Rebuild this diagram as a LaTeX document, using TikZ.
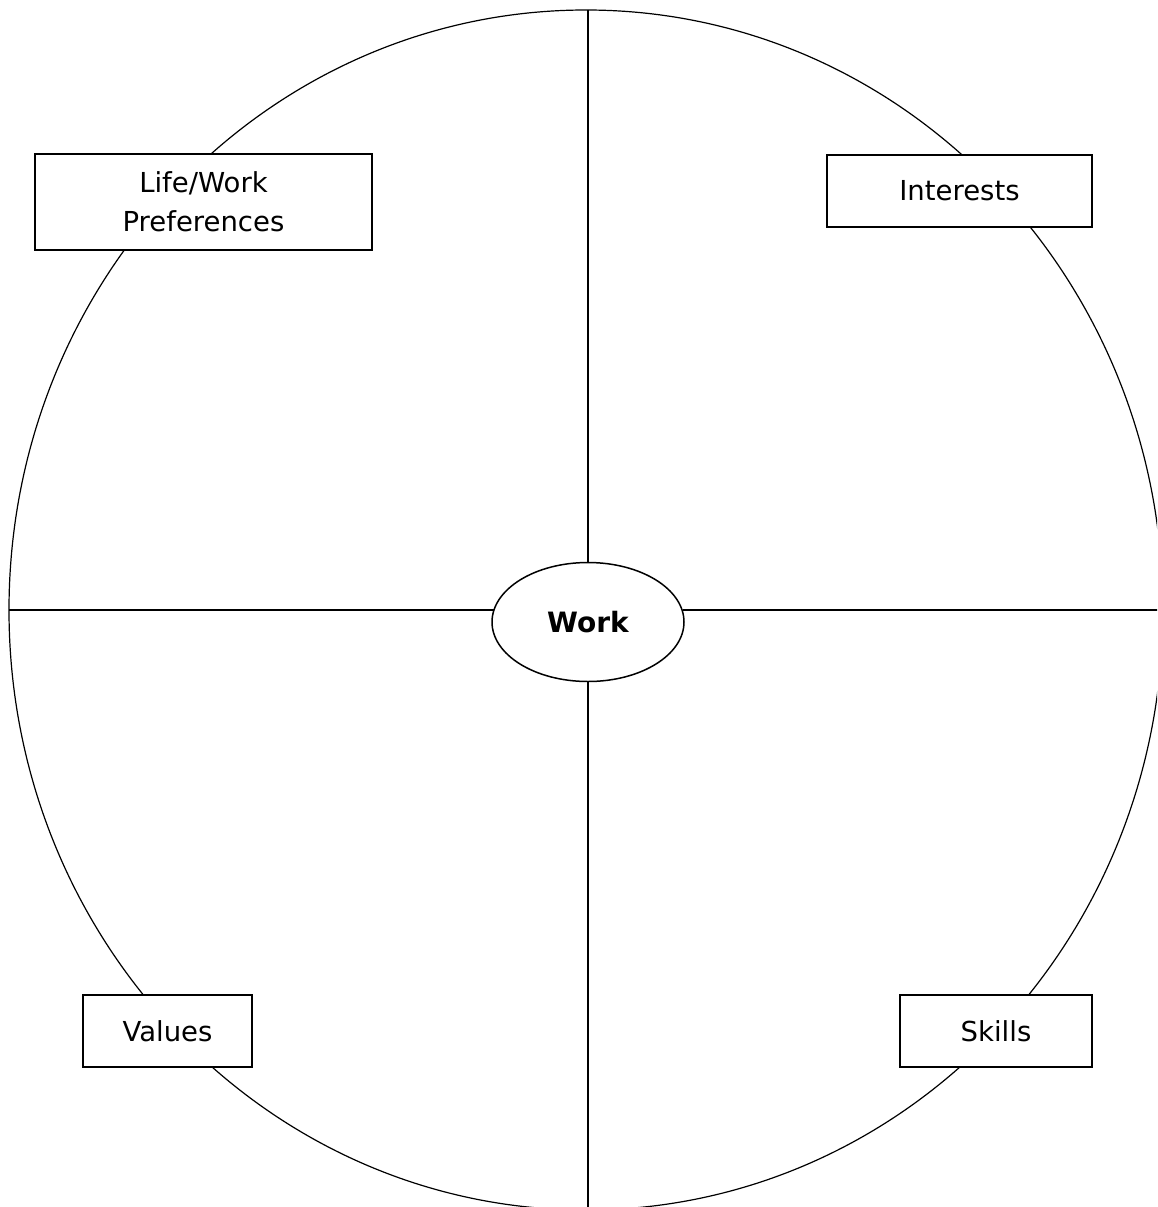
\documentclass[tikz,border=0pt]{standalone}
\usepackage{fontspec}
\setmainfont{DejaVu Sans}
\usepackage{tikz}
\usetikzlibrary{shapes.geometric,positioning}

\begin{document}
\begin{tikzpicture}[x=1pt,y=-1pt,font=\fontsize{27.5}{39}\selectfont]

\tikzset{rimnode/.style={shape=ellipse,draw=black,line width=1.2pt,inner sep=0pt,minimum width=1154pt,minimum height=1200pt},
hubnode/.style={shape=ellipse,draw=black,fill=white,line width=1.5pt,inner sep=0pt,minimum width=192pt,minimum height=119pt,font=\fontsize{28}{34}\selectfont\bfseries},
labelbox/.style={shape=rectangle,draw=black,fill=white,line width=1.7pt,inner sep=0pt,align=center,minimum height=72pt},
spoke/.style={line width=1.7pt}}

% Page
\useasboundingbox (0,0) rectangle (1157,1207);
\clip (0,0) rectangle (1157,1207);

% Wheel
\node[rimnode] (rim) at (586,610) {};
\node[hubnode] (work) at (588,622) {Work};

% Spokes
\coordinate (spokeN) at (588,10);
\coordinate (spokeS) at (588,1212);
\coordinate (spokeW) at (9,610);
\coordinate (spokeE) at (1162,610);
\draw[spoke] (spokeN) -- (work);
\draw[spoke] (spokeS) -- (work);
\draw[spoke] (spokeW) -- (spokeW -| work.172.4);
\draw[spoke] (spokeE) -- (spokeE -| work.7.6);

% Labels
\node[labelbox,minimum width=337pt,minimum height=96pt] (prefs) at (203.5,202) {Life/Work\\Preferences};
\node[labelbox,minimum width=265pt] (interests) at (959.5,191) {Interests};
\node[labelbox,minimum width=169pt] (values) at (167.5,1031) {Values};
\node[labelbox,minimum width=192pt] (skills) at (996,1031) {Skills};

\end{tikzpicture}
\end{document}
